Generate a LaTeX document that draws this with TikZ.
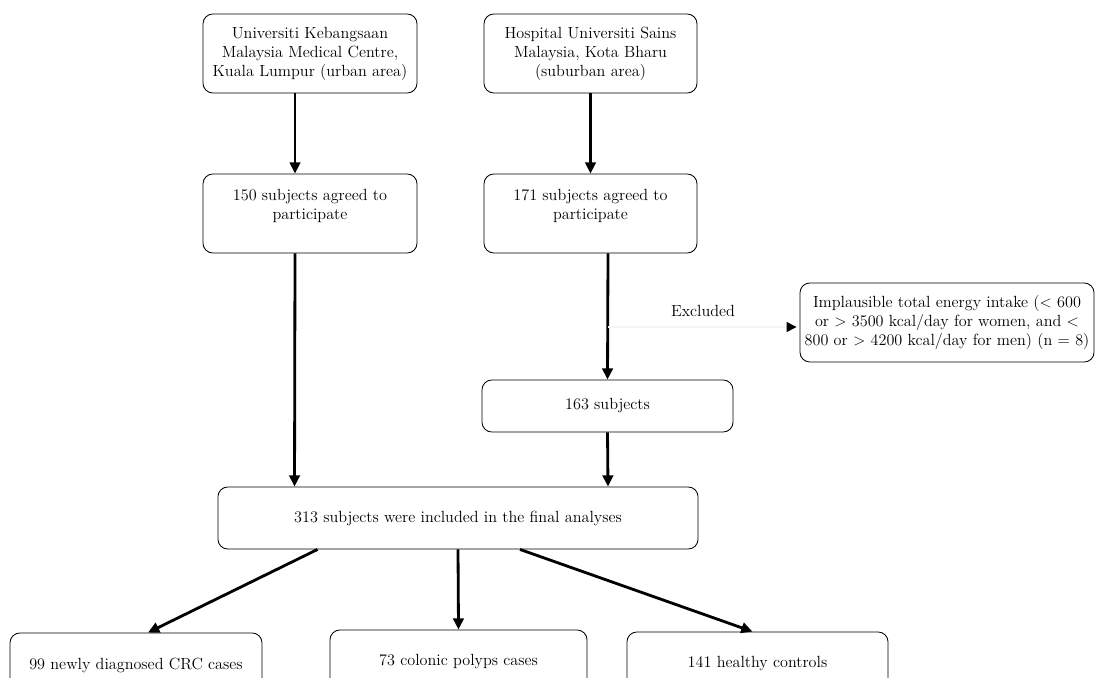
\documentclass[tikz,border=0pt]{standalone}
\usepackage{fontspec}
\usetikzlibrary{arrows.meta,calc}
\newcommand{\pxscale}{0.025}

\begin{document}
\begin{tikzpicture}[x = \pxscale cm, y = -\pxscale cm,
  box/.style = {draw, rounded corners = 7pt, line width = 0.6pt, align = center, inner sep = 0pt, font = \fontsize{11.5}{13.5}\selectfont},
  label/.style = {font = \fontsize{11.5}{13.5}\selectfont},
  flow/.style = {line width = 2pt, -{Triangle[length = 8pt, width = 7.5pt]}}]
\clip (0,0) rectangle (1096,677);

\node [box, minimum width = 5.35cm, minimum height = 1.975cm] (v1) at (310,53.5) {Universiti Kebangsaan\\Malaysia Medical Centre,\\Kuala Lumpur (urban area)};
\node [box, minimum width = 5.325cm, minimum height = 1.975cm] (v2) at (590.5,53.5) {Hospital Universiti Sains\\Malaysia, Kota Bharu\\(suburban area)};

\node [box, minimum width = 5.35cm, minimum height = 1.975cm] (v3) at (310,213.5) {150 subjects agreed to\\participate\\\mbox{}};
\node [box, minimum width = 5.325cm, minimum height = 1.975cm] (v4) at (590.5,213.5) {171 subjects agreed to\\participate\\\mbox{}};

\node [box, minimum width = 6.275cm, minimum height = 1.3cm] (v5) at (607.5,406) {163 subjects};
\node [box, minimum width = 12cm, minimum height = 1.55cm] (v6) at (458,518) {313 subjects were included in the final analyses};

\node [label] (v11) at (703,311) {Excluded};
\node [box, minimum width = 7.35cm, minimum height = 1.975cm] (v7) at (947,322.5) {Implausible total energy intake (< 600\\or > 3500 kcal/day for women, and <\\800 or > 4200 kcal/day for men) (n = 8)};
\coordinate (c1) at (608,327);

\node [box, minimum width = 6.3cm, minimum height = 1.6cm] (v8) at (136,665) {99 newly diagnosed CRC cases};
\node [box, minimum width = 6.425cm, minimum height = 1.6cm] (v9) at (458.5,662) {73 colonic polyps cases};
\node [box, minimum width = 6.525cm, minimum height = 1.6cm] (v10) at (757.5,664) {141 healthy controls};

\draw [flow] ($(v1.south)+(-15,0)$) -- ($(v3.north)+(-15,0)$);
\draw [flow] (v2.south) -- (v4.north);
\draw [flow] ($(v3.south)+(-15,0)$) -- ($(v6.north west)+(77,0)$);
\draw [flow] ($(v4.south)+(17.5,0)$) -- (v5.north);
\draw [flow] (v5.south) -- ($(v6.north)+(150,0)$);

\draw [black!4, line width = 1pt, -{Triangle[black, length = 7pt, width = 7pt]}, shorten > = 0.075cm] (c1) -- (c1 -| v7.west);

\draw [flow] ($(v6.south west)+(100,0)$) -- ($(v8.north)+(12,0)$);
\draw [flow] (v6.south) -- (v9.north);
\draw [flow] ($(v6.south)+(62,0)$) -- ($(v10.north)+(-5,0)$);
\end{tikzpicture}
\end{document}
